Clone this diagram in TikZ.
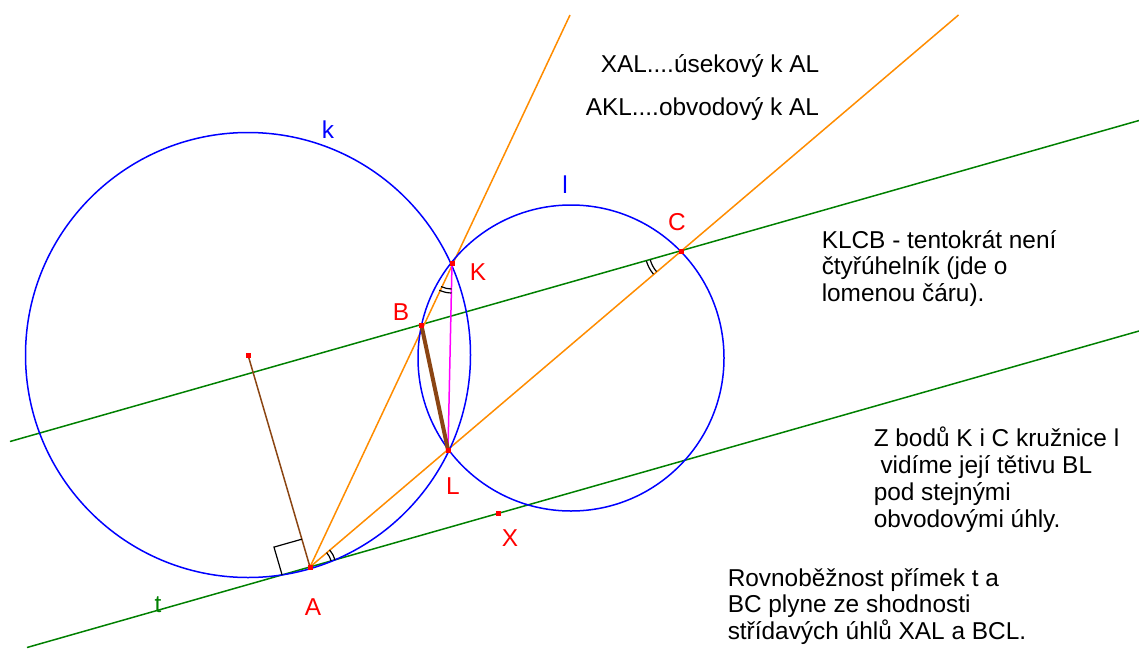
\documentclass[tikz,border=0pt]{standalone}
\usepackage{fontspec}
\setmainfont{Liberation Sans}
\usetikzlibrary{calc}
\definecolor{geoblue}{RGB}{0,0,255}
\definecolor{geogreen}{RGB}{0,128,0}
\definecolor{geoorange}{RGB}{255,140,0}
\definecolor{geobrown}{RGB}{139,69,19}
\definecolor{geomagenta}{RGB}{255,0,255}

\begin{document}
\begin{tikzpicture}[x=0.5pt,y=-0.5pt,line width=0.75pt,
  txt/.style={font=\fontsize{12.2}{13.35}\selectfont,inner sep=0pt,align=left,anchor=base west},
  lbl/.style={font=\fontsize{12.2}{13.35}\selectfont,inner sep=0pt,text=red},
  anglearc/.style={black,line width=0.6pt}]
  \useasboundingbox (0,0) rectangle (1139,648);
  % points
  \coordinate (O) at (248,355);   % centre of k
  \coordinate (P) at (571,358);   % centre of l
  \coordinate (A) at (310,567);
  \coordinate (K) at (452,263);
  \coordinate (L) at (448,450);
  \coordinate (B) at (421.5,325.5);
  \coordinate (C) at (681,251);
  \coordinate (X) at (498,513.5);
  % ends of the lines
  \coordinate (tw) at (27,647.5);
  \coordinate (te) at (1139,331);
  \coordinate (bcw) at (10,441.5);
  \coordinate (bce) at (1139,120.5);
  \coordinate (ak) at (570,15);
  \coordinate (al) at (958.5,15);
  % lines t and BC
  \draw[geogreen] (tw) -- (te);
  \draw[geogreen] (bcw) -- (bce);
  % lines AK and AL
  \draw[geoorange] (A) -- (ak);
  \draw[geoorange] (A) -- (al);
  % circles k and l
  \draw[geoblue] (O) circle[radius=222.5];
  \draw[geoblue] (P) circle[radius=153];
  % chords
  \draw[geomagenta] (K) -- (L);
  \draw[geobrown,line width=2pt] (B) -- (L);
  \draw[geobrown] (O) -- (A);
  % right angle at A
  \coordinate (ra) at ($(A)!14.5pt!(O)$);
  \coordinate (rb) at ($(A)!14.5pt!(tw)$);
  \draw[black,line width=0.6pt] (ra) -- ($(ra)+(rb)-(A)$) -- (rb);
  % equal angles XAL, AKL, BCL
  \foreach \r in {22,26}
    \draw[anglearc] (A) ++(-41:\r) arc[start angle=-41,end angle=-16,radius=\r];
  \foreach \r in {26,30}
    \draw[anglearc] (K) ++(91:\r) arc[start angle=91,end angle=115,radius=\r];
  \foreach \r in {32,36}
    \draw[anglearc] (C) ++(140:\r) arc[start angle=140,end angle=164,radius=\r];
  % points as small squares
  \foreach \p in {O,A,B,C,K,L,X}
    \fill[red] ($(\p)+(-2.5,-2.5)$) rectangle ++(5,5);
  % labels
  \node[lbl,text=geoblue] (labk) at (328,130) {k};
  \node[lbl,text=geoblue] (labl) at (565,185) {l};
  \node[lbl,text=geogreen] (labt) at (158,605) {t};
  \node[lbl] (labA) at (313,607) {A};
  \node[lbl] (labB) at (401,312) {B};
  \node[lbl] (labC) at (677,222) {C};
  \node[lbl] (labK) at (478,272) {K};
  \node[lbl] (labL) at (453,486) {L};
  \node[lbl] (labX) at (510,538) {X};
  % notes (anchored at the baseline of the last line)
  \node[txt] (xal) at (600,72) {XAL....úsekový k AL};
  \node[txt] (akl) at (585,115) {AKL....obvodový k AL};
  \node[txt] (klcb) at (821,301.5) {KLCB - tentokrát není\\čtyřúhelník (jde o\\lomenou čáru).};
  \node[txt] (zbodu) at (873,527) {Z bodů K i C kružnice l\\\ vidíme její tětivu BL\\pod stejnými\\obvodovými úhly.};
  \node[txt] (rovn) at (727,639.5) {Rovnoběžnost přímek t a\\BC plyne ze shodnosti\\střídavých úhlů XAL a BCL.};
\end{tikzpicture}
\end{document}
